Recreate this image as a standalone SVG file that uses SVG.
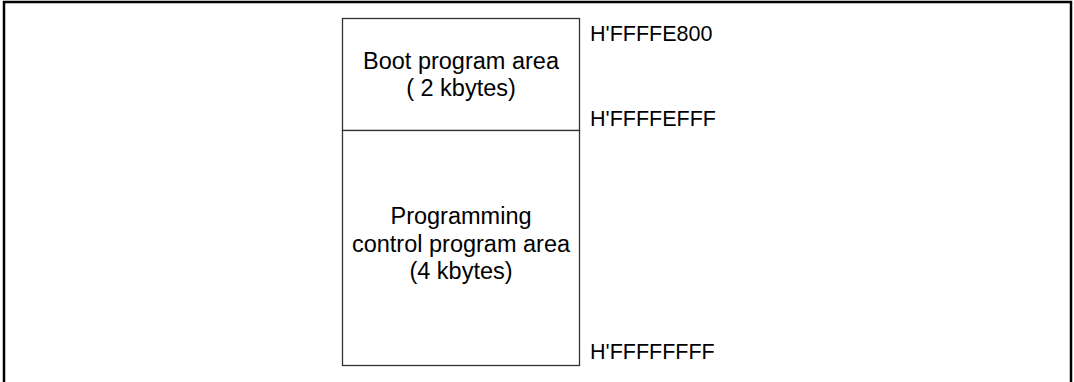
<svg xmlns="http://www.w3.org/2000/svg" width="1074" height="382" viewBox="0 0 1074 382">
<style>
.t{font-family:"Liberation Sans",Arial,sans-serif;font-size:23.5px;fill:#000}
.a{font-family:"Liberation Sans",Arial,sans-serif;font-size:21.5px;fill:#000}
.c{text-anchor:middle}
.box{fill:#fff;stroke:#333;stroke-width:1.3}
</style>
<rect x="0" y="0" width="1074" height="382" fill="#fff"/>
<rect x="4" y="2" width="1067" height="420" fill="none" stroke="#000" stroke-width="2.5"/>
<g id="boot">
<rect class="box" x="342.5" y="18.5" width="237" height="112"/>
<text class="t c" x="461" y="69">Boot program area</text>
<text class="t c" x="461" y="96">( 2 kbytes)</text>
</g>
<g id="ctrl">
<rect class="box" x="342.5" y="130.5" width="237" height="235"/>
<text class="t c" x="461" y="224">Programming</text>
<text class="t c" x="461" y="252">control program area</text>
<text class="t c" x="461" y="279">(4 kbytes)</text>
</g>
<g id="addr">
<text class="a" x="590" y="41">H'FFFFE800</text>
<text class="a" x="590" y="126">H'FFFFEFFF</text>
<text class="a" x="590" y="359">H'FFFFFFFF</text>
</g>
<g id="connectors"></g>
</svg>
